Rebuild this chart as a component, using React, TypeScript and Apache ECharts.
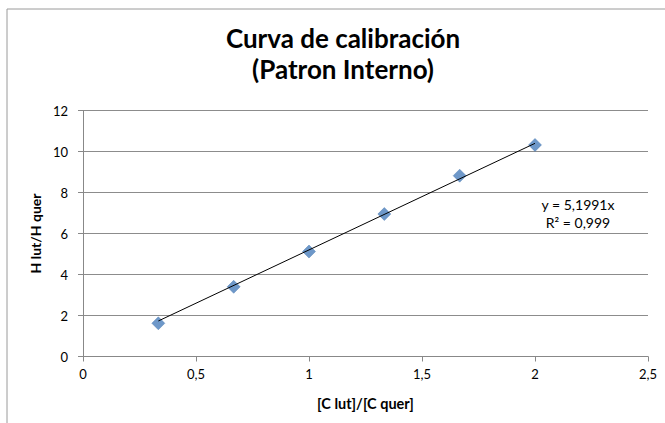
import React, { useEffect, useRef } from "react";
import * as echarts from "echarts";

const xValues = [1 / 3, 2 / 3, 1, 4 / 3, 5 / 3, 2];
const yValues = [1.62, 3.4, 5.12, 6.95, 8.82, 10.32];
const slope = 5.1991;
const r2Label = "R² = 0,999";
const eqLabel = "y = 5,1991x";
const titleLines = ["Curva de calibración", "(Patron Interno)"];
const xAxisName = "[C lut]/[C quer]";
const yAxisName = "H lut/H quer";

const FONT = "Lato, 'Open Sans', sans-serif";
const fmt = (v: number) => String(v).replace(".", ",");

export default function App() {
  const ref = useRef<HTMLDivElement>(null);
  useEffect(() => {
    document.body.style.margin = "0";
    const chart = echarts.init(ref.current!, null, { renderer: "svg" });
    const xMinFit = Math.min(...xValues);
    const xMaxFit = Math.max(...xValues);
    chart.setOption({
      animation: false,
      backgroundColor: "#fff",
      title: {
        text: titleLines.join("\n"),
        left: 338,
        top: 17,
        textAlign: "center",
        textStyle: {
          fontFamily: FONT,
          fontSize: 26,
          fontWeight: "bold",
          color: "#000",
          lineHeight: 31,
        },
      },
      graphic: [
        {
          type: "rect",
          shape: { x: 7, y: 9, width: 700, height: 500 },
          style: { fill: "none", stroke: "#9a9a9a", lineWidth: 1 },
          silent: true,
        },
        {
          type: "text",
          x: 578,
          y: 213,
          style: {
            text: eqLabel + "\n" + r2Label,
            fontFamily: FONT,
            fontSize: 14,
            lineHeight: 18,
            fill: "#000",
            align: "center",
            verticalAlign: "middle",
          },
        },
      ],
      grid: { left: 83, right: 17, top: 110.5, bottom: 66.5 },
      xAxis: {
        type: "value",
        min: 0,
        max: 2.5,
        interval: 0.5,
        name: xAxisName,
        nameLocation: "middle",
        nameGap: 39,
        nameTextStyle: { fontFamily: FONT, fontSize: 14.5, fontWeight: "bold", color: "#000" },
        axisLine: { show: true, lineStyle: { color: "#888", width: 1 } },
        axisTick: { show: true, length: 5, lineStyle: { color: "#888" } },
        axisLabel: {
          fontFamily: FONT,
          fontSize: 13,
          color: "#000",
          margin: 11,
          formatter: (v: number) => fmt(v),
        },
        splitLine: { show: false },
      },
      yAxis: {
        type: "value",
        min: 0,
        max: 12,
        interval: 2,
        name: yAxisName,
        nameLocation: "middle",
        nameGap: 40,
        nameTextStyle: { fontFamily: FONT, fontSize: 14, fontWeight: "bold", color: "#000" },
        axisLine: { show: true, lineStyle: { color: "#888", width: 1 } },
        axisTick: { show: true, length: 5, lineStyle: { color: "#888" } },
        axisLabel: {
          fontFamily: FONT,
          fontSize: 13,
          color: "#000",
          margin: 15,
          formatter: (v: number) => fmt(v),
        },
        splitLine: { show: true, lineStyle: { color: "#8c8c8c", width: 1 } },
      },
      series: [
        {
          type: "line",
          data: [
            [xMinFit, slope * xMinFit],
            [xMaxFit, slope * xMaxFit],
          ],
          symbol: "none",
          lineStyle: { color: "#000", width: 1 },
          z: 3,
          silent: true,
        },
        {
          type: "scatter",
          data: xValues.map((x, i) => [x, yValues[i]]),
          symbol: "diamond",
          symbolSize: [13, 13],
          itemStyle: { color: "#4a7ebb", borderColor: "#3a6eab", borderWidth: 0.5 },
          z: 2,
        },
      ],
    });
    return () => chart.dispose();
  }, []);
  return <div ref={ref} style={{ width: 665, height: 423 }} />;
}
